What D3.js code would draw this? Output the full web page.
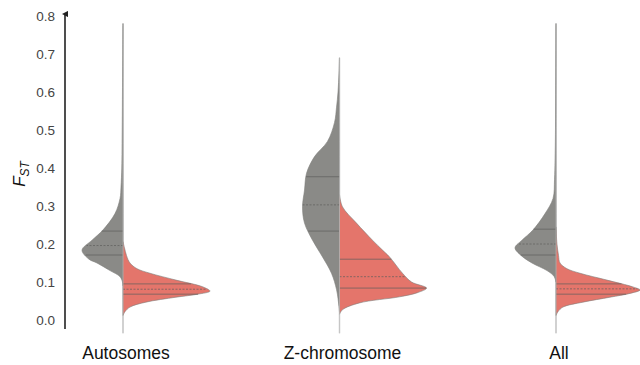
<!DOCTYPE html>
<html>
<head>
<meta charset="utf-8">
<script src="https://cdn.jsdelivr.net/npm/d3@7"></script>
<style>
  html, body { margin: 0; padding: 0; background: #fff; }
  svg { display: block; }
</style>
</head>
<body>
<svg id="chart" width="640" height="365"></svg>
<script>
// Split violins of F_ST: left half (grey) and right half (red) per group.
const categories = ["Autosomes", "Z-chromosome", "All"];
const yTicks = [0, 0.1, 0.2, 0.3, 0.4, 0.5, 0.6, 0.7, 0.8];

// Density profiles: [F_ST value, relative density]
const autosomesLeft = [[0.78,0],[0.6,0.06],[0.45,0.11],[0.40,0.14],[0.35,0.23],[0.32,0.34],[0.28,0.92],[0.237,2.30],[0.21,3.56],[0.184,4.71],[0.16,3.91],[0.15,2.99],[0.13,1.49],[0.114,0.34],[0.10,0.06],[0.09,0]];
const autosomesRight = [[0.206,0],[0.19,0.17],[0.17,0.40],[0.15,0.80],[0.135,1.61],[0.123,3.10],[0.105,6.09],[0.087,9.20],[0.076,10.0],[0.068,8.62],[0.06,6.09],[0.047,2.64],[0.034,0.80],[0.022,0.23],[0.012,0]];
const zLeft = [[0.69,0],[0.65,0.06],[0.60,0.17],[0.56,0.34],[0.52,0.57],[0.47,1.38],[0.43,2.87],[0.386,3.79],[0.342,4.02],[0.298,4.25],[0.255,4.02],[0.21,3.10],[0.166,1.95],[0.123,0.92],[0.08,0.34],[0.035,0.06],[0.02,0]];
const zRight = [[0.33,0],[0.298,0.34],[0.255,1.95],[0.21,3.79],[0.184,4.94],[0.166,5.75],[0.123,7.24],[0.10,8.28],[0.084,10.0],[0.072,8.97],[0.061,6.90],[0.045,2.30],[0.027,0.34],[0.015,0]];
const allLeft = [[0.78,0],[0.5,0.06],[0.42,0.11],[0.37,0.17],[0.32,0.34],[0.28,1.26],[0.237,2.64],[0.21,3.91],[0.19,4.71],[0.17,4.02],[0.15,2.76],[0.13,1.03],[0.115,0.23],[0.10,0]];
const allRight = [[0.245,0],[0.2,0.11],[0.17,0.29],[0.15,0.46],[0.135,1.26],[0.123,2.76],[0.105,5.86],[0.087,8.85],[0.079,9.66],[0.07,8.51],[0.06,6.21],[0.047,3.10],[0.034,0.80],[0.022,0.23],[0.012,0]];

// Quartiles [Q1, median, Q3]
const leftQuartiles = [[0.171,0.196,0.234],[0.234,0.303,0.377],[0.171,0.200,0.239]];
const rightQuartiles = [[0.068,0.081,0.095],[0.084,0.114,0.160],[0.068,0.082,0.095]];

// Range of values per group [min, max]
const ranges = [[-0.035,0.78],[-0.035,0.69],[-0.035,0.78]];

const leftProfiles = [autosomesLeft, zLeft, allLeft];
const rightProfiles = [autosomesRight, zRight, allRight];

const svg = d3.select("#chart");

const y = d3.scaleLinear().domain([0, 0.8]).range([320, 16]);
const x = d3.scalePoint().domain(categories).range([123, 556]);
const w = d3.scaleLinear().domain([0, 10]).range([0, 87]);

const greyFill = "#8a8a87", redFill = "#e4756b";
const edge = "#7d7d7b", qLine = "#5f5f5d";

function widthAt(profile, v) {
  const pts = profile.slice().sort((a, b) => a[0] - b[0]);
  for (let i = 0; i < pts.length - 1; i++) {
    if (v >= pts[i][0] && v <= pts[i + 1][0]) {
      const t = (v - pts[i][0]) / (pts[i + 1][0] - pts[i][0]);
      return pts[i][1] + t * (pts[i + 1][1] - pts[i][1]);
    }
  }
  return 0;
}

categories.forEach((cat, i) => {
  const cx = x(cat);
  const g = svg.append("g");

  const halves = [
    { profile: leftProfiles[i], q: leftQuartiles[i], sign: -1, fill: greyFill },
    { profile: rightProfiles[i], q: rightQuartiles[i], sign: 1, fill: redFill }
  ];

  // range line
  g.append("line")
    .attr("x1", cx).attr("x2", cx)
    .attr("y1", y(ranges[i][0])).attr("y2", y(ranges[i][1]))
    .attr("stroke", "#c4c4c4").attr("stroke-width", 1.4);

  halves.forEach(h => {
    const area = d3.area()
      .y(d => y(d[0]))
      .x0(cx)
      .x1(d => cx + h.sign * w(d[1]))
      .curve(d3.curveCatmullRom.alpha(0.5));
    const sorted = h.profile.slice().sort((a, b) => b[0] - a[0]);
    g.append("path")
      .datum(sorted)
      .attr("d", area)
      .attr("fill", h.fill)
      .attr("stroke", edge)
      .attr("stroke-width", 0.6);

    h.q.forEach((qv, k) => {
      const len = w(widthAt(h.profile, qv));
      g.append("line")
        .attr("x1", cx).attr("x2", cx + h.sign * len)
        .attr("y1", y(qv)).attr("y2", y(qv))
        .attr("stroke", qLine)
        .attr("stroke-width", 0.7)
        .attr("stroke-dasharray", k === 1 ? "2,1.5" : null);
    });
  });

  // faint center seam
  g.append("line")
    .attr("x1", cx).attr("x2", cx)
    .attr("y1", y(ranges[i][0])).attr("y2", y(ranges[i][1]))
    .attr("stroke", "#c8c8c8").attr("stroke-width", 1).attr("opacity", 0.6);

  svg.append("text")
    .attr("x", cx + 3).attr("y", 359)
    .attr("text-anchor", "middle")
    .attr("font-family", "Liberation Sans, Arial, sans-serif")
    .attr("font-size", 17.5)
    .attr("fill", "#111")
    .text(cat);
});

// y axis
const axis = d3.axisLeft(y).tickValues(yTicks).tickSize(0).tickPadding(10)
  .tickFormat(d3.format(".1f"));
const ag = svg.append("g").attr("transform", "translate(65,0)").call(axis);
ag.select(".domain").remove();
ag.selectAll("text")
  .attr("font-family", "Liberation Sans, Arial, sans-serif")
  .attr("font-size", 13.5)
  .attr("fill", "#444");

const defs = svg.append("defs");
defs.append("marker")
  .attr("id", "arrow").attr("viewBox", "0 0 6 6")
  .attr("refX", 3).attr("refY", 3)
  .attr("markerWidth", 4).attr("markerHeight", 4)
  .attr("orient", "auto")
  .append("path").attr("d", "M0,6 L3,0 L6,6 Z").attr("fill", "#222");

svg.append("line")
  .attr("x1", 65).attr("x2", 65)
  .attr("y1", y(0) + 9).attr("y2", y(0.8) - 2)
  .attr("stroke", "#222").attr("stroke-width", 1.6)
  .attr("marker-end", "url(#arrow)");

// y-axis title
const title = svg.append("text")
  .attr("transform", "translate(25,174) rotate(-90)")
  .attr("text-anchor", "middle")
  .attr("font-family", "Liberation Sans, Arial, sans-serif")
  .attr("font-style", "italic")
  .attr("fill", "#111");
title.append("tspan").attr("font-size", 17).text("F");
title.append("tspan").attr("font-size", 12).attr("dy", 4).text("ST");
</script>
</body>
</html>
